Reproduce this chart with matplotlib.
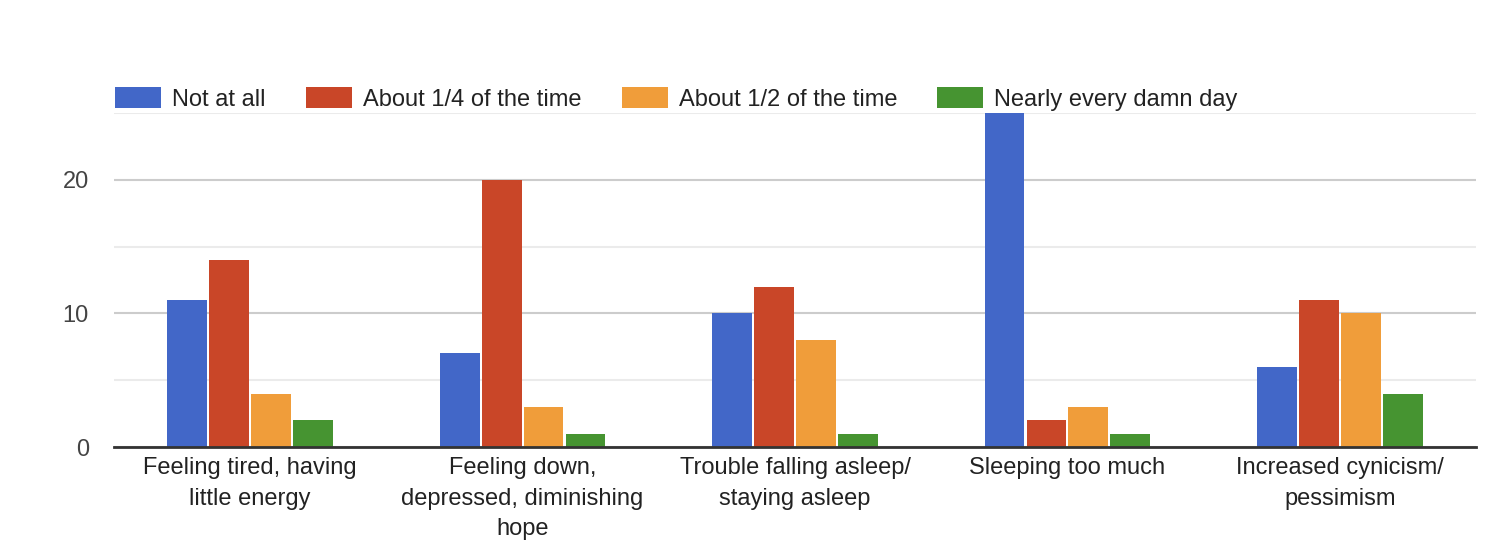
import numpy as np
import matplotlib.pyplot as plt
from matplotlib.ticker import MultipleLocator

categories = ["Feeling tired, having\nlittle energy",
              "Feeling down,\ndepressed, diminishing\nhope",
              "Trouble falling asleep/\nstaying asleep",
              "Sleeping too much",
              "Increased cynicism/\npessimism"]
series = ["Not at all", "About 1/4 of the time", "About 1/2 of the time", "Nearly every damn day"]
not_at_all = [11, 7, 10, 25, 6]
quarter = [14, 20, 12, 2, 11]
half = [4, 3, 8, 3, 10]
nearly_every = [2, 1, 1, 1, 4]
colors = ["#4267c8", "#c94628", "#f09d3a", "#469431"]

plt.rcParams['font.family'] = ['Liberation Sans', 'DejaVu Sans']

fig = plt.figure(figsize=(14.96, 5.52), dpi=100)
ax = fig.add_axes([114/1496, 1 - 447/552, 1362/1496, 334/552])

x = np.arange(len(categories))
slot = 0.154
for i, vals in enumerate([not_at_all, quarter, half, nearly_every]):
    ax.bar(x + (i - 1.5) * slot, vals, width=slot - 0.008, color=colors[i],
           label=series[i], zorder=3)

ax.set_xlim(-0.5, 4.5)
ax.set_ylim(0, 25)
ax.yaxis.set_major_locator(MultipleLocator(10))
ax.yaxis.set_minor_locator(MultipleLocator(5))
ax.grid(axis='y', which='major', color='#cccccc', linewidth=1.5, zorder=0)
ax.grid(axis='y', which='minor', color='#ebebeb', linewidth=1.5, zorder=0)
for s in ['top', 'right', 'left']:
    ax.spines[s].set_visible(False)
ax.spines['bottom'].set_color('#333333')
ax.spines['bottom'].set_linewidth(2)
ax.spines['bottom'].set_zorder(4)

ax.set_xticks(x)
ax.set_xticklabels(categories, fontsize=17, color='#222222', linespacing=1.52)
ax.tick_params(axis='x', length=0, pad=7)
ax.tick_params(axis='y', which='both', length=0, labelsize=17, labelcolor='#444444', pad=18)

fig.legend(loc='center left', bbox_to_anchor=(115/1496, 1 - 99/552), ncol=4,
           frameon=False, fontsize=17, handlelength=1.95, handleheight=1.0,
           handletextpad=0.47, columnspacing=1.7, borderaxespad=0, borderpad=0,
           labelcolor='#222222')

fig.savefig("out.png", dpi=100)
